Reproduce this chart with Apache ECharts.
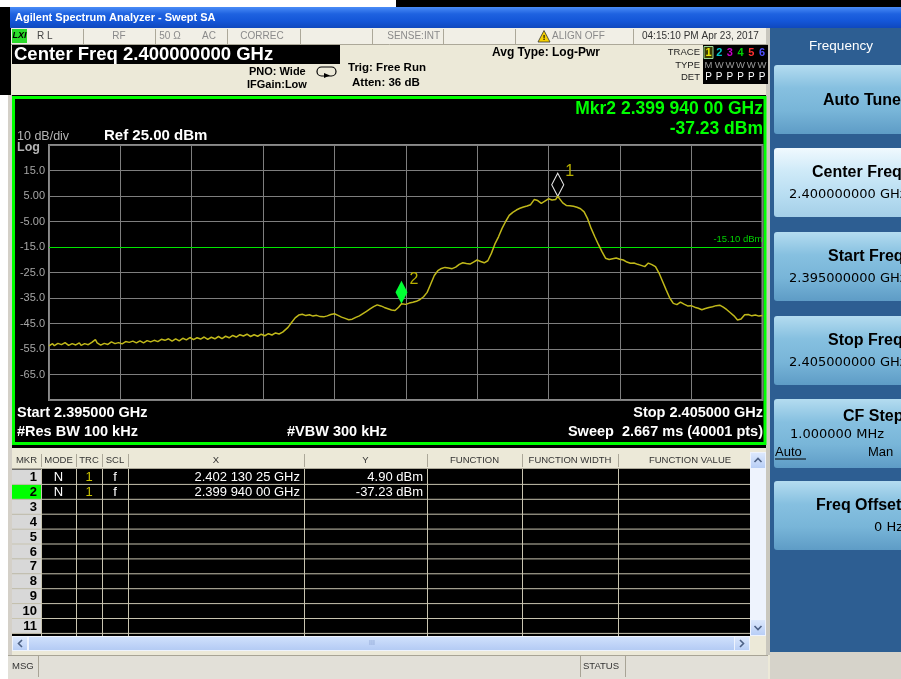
<!DOCTYPE html>
<html><head><meta charset="utf-8">
<script src="https://cdn.jsdelivr.net/npm/echarts@6/dist/echarts.min.js"></script>
<style>html,body{margin:0;padding:0;background:#fff}#c{width:901px;height:679px}</style>
</head><body><div id="c"></div>
<script>
// ---------------- data ----------------
const freqMHz = [
2395.000,2395.025,2395.050,2395.075,2395.100,2395.125,2395.150,2395.175,2395.200,2395.225,
2395.250,2395.275,2395.300,2395.325,2395.350,2395.375,2395.400,2395.425,2395.450,2395.475,
2395.500,2395.525,2395.550,2395.575,2395.600,2395.625,2395.650,2395.675,2395.700,2395.725,
2395.750,2395.775,2395.800,2395.825,2395.850,2395.875,2395.900,2395.925,2395.950,2395.975,
2396.000,2396.025,2396.050,2396.075,2396.100,2396.125,2396.150,2396.175,2396.200,2396.225,
2396.250,2396.275,2396.300,2396.325,2396.350,2396.375,2396.400,2396.425,2396.450,2396.475,
2396.500,2396.525,2396.550,2396.575,2396.600,2396.625,2396.650,2396.675,2396.700,2396.725,
2396.750,2396.775,2396.800,2396.825,2396.850,2396.875,2396.900,2396.925,2396.950,2396.975,
2397.000,2397.025,2397.050,2397.075,2397.100,2397.125,2397.150,2397.175,2397.200,2397.225,
2397.250,2397.275,2397.300,2397.325,2397.350,2397.375,2397.400,2397.425,2397.450,2397.475,
2397.500,2397.525,2397.550,2397.575,2397.600,2397.625,2397.650,2397.675,2397.700,2397.725,
2397.750,2397.775,2397.800,2397.825,2397.850,2397.875,2397.900,2397.925,2397.950,2397.975,
2398.000,2398.025,2398.050,2398.075,2398.100,2398.125,2398.150,2398.175,2398.200,2398.225,
2398.250,2398.275,2398.300,
2398.35,2398.40,2398.45,
2398.50,2398.55,2398.60,2398.65,2398.70,2398.75,2398.80,2398.85,2398.90,2398.95,
2399.00,2399.05,2399.10,2399.15,2399.20,2399.25,2399.30,2399.35,2399.40,2399.45,
2399.50,2399.55,2399.60,2399.65,2399.70,2399.75,2399.80,2399.85,2399.90,2399.94,
2400.00,2400.05,2400.10,2400.15,2400.20,2400.25,2400.30,2400.35,2400.40,2400.45,
2400.50,2400.55,2400.60,2400.65,2400.70,2400.75,2400.80,2400.85,2400.90,2400.95,
2401.00,2401.05,2401.10,2401.15,2401.20,2401.25,2401.30,2401.35,2401.40,2401.45,
2401.50,2401.55,2401.60,2401.65,2401.70,2401.75,2401.80,2401.85,2401.90,2401.95,
2402.00,2402.05,2402.10,2402.13,2402.15,2402.20,2402.25,2402.30,2402.35,2402.40,
2402.45,2402.50,2402.55,2402.60,2402.65,2402.70,2402.75,2402.80,2402.85,2402.90,
2402.95,2403.00,2403.05,2403.10,2403.15,2403.20,2403.25,2403.30,2403.35,2403.40,
2403.45,2403.50,2403.55,2403.60,2403.65,2403.70,2403.75,2403.80,2403.85,2403.90,
2403.95,2404.00,2404.05,2404.10,2404.15,2404.20,2404.25,2404.30,2404.35,2404.40,
2404.45,2404.50,2404.55,2404.60,2404.65,2404.70,2404.75,2404.80,2404.85,2404.90,
2404.95,2405.00
];
const levelDbm = [
-53.8,-53.2,-52.9,-53.7,-53.4,-52.8,-52.6,-53.3,-53.1,-52.5,
-52.8,-53.6,-53.5,-52.9,-52.7,-53.4,-53.2,-52.6,-53.6,-53.0,
-52.9,-53.5,-53.3,-52.7,-52.4,-52.9,-51.3,-52.6,-52.8,-53.5,
-53.4,-52.8,-52.6,-53.2,-53.0,-52.2,-52.3,-52.9,-53.1,-52.5,
-52.2,-53.0,-52.9,-52.1,-51.6,-52.4,-52.5,-51.9,-51.8,-52.6,
-52.7,-51.8,-51.9,-52.6,-52.4,-51.7,-51.5,-52.2,-52.3,-51.6,
-51.4,-52.1,-52.0,-51.2,-50.9,-51.6,-51.7,-51.0,-51.1,-51.9,
-51.8,-51.0,-51.2,-51.8,-51.6,-50.8,-50.7,-51.4,-51.3,-50.5,
-50.6,-51.3,-51.2,-50.6,-50.4,-51.1,-51.0,-50.3,-50.5,-51.2,
-51.1,-50.4,-50.3,-51.0,-50.9,-50.1,-50.2,-50.9,-50.8,-50.0,
-49.9,-50.6,-50.4,-49.7,-49.6,-50.3,-50.2,-49.4,-48.8,-49.9,
-49.7,-49.2,-49.3,-50.1,-50.0,-49.4,-49.5,-50.0,-49.9,-49.2,
-49.3,-49.8,-49.6,-49.0,-48.9,-49.5,-49.3,-48.7,-48.6,-49.1,
-48.9,-48.4,-47.8,
-46.5,-44.6,-42.8,
-41.7,-41.4,-41.9,-41.6,-42.1,-41.8,-42.3,-42.4,-42.0,-41.5,
-41.2,-41.8,-42.5,-43.0,-43.5,-43.3,-42.6,-42.0,-41.1,-40.2,
-39.3,-38.4,-37.7,-38.1,-38.7,-39.2,-39.7,-39.9,-38.6,-37.23,
-37.5,-37.0,-36.7,-36.3,-35.6,-34.5,-32.8,-29.5,-26.2,-24.3,
-23.4,-23.0,-23.2,-23.5,-22.9,-21.8,-21.2,-21.5,-21.7,-20.9,
-20.1,-20.7,-21.2,-20.4,-17.5,-13.8,-11.0,-7.7,-5.0,-2.6,
-1.4,-0.5,0.2,0.7,1.1,1.6,3.6,3.2,2.1,3.0,
3.9,3.4,3.6,4.90,4.2,2.3,1.3,1.2,1.0,0.6,
0.0,-1.2,-4.0,-7.8,-11.0,-14.0,-16.8,-19.4,-19.9,-19.6,
-19.3,-19.8,-20.1,-20.9,-21.4,-21.3,-21.8,-22.2,-22.7,-21.3,
-21.9,-22.7,-25.2,-28.5,-31.8,-35.0,-37.1,-37.6,-36.6,-37.4,
-38.1,-38.0,-38.6,-39.0,-39.6,-39.1,-38.7,-38.4,-38.0,-37.8,
-38.6,-39.6,-40.8,-42.0,-43.6,-43.2,-41.6,-41.5,-42.0,-41.7,
-42.1,-41.9
];
const markerIds = ['1','2'];
const markerFreqMHz = [2402.13025, 2399.94];
const markerLevelDbm = [4.90, -37.23];
const markerXText = ['2.402 130 25 GHz','2.399 940 00 GHz'];
const markerYText = ['4.90 dBm','-37.23 dBm'];
const displayLineDbm = -15.10;
const startFreqMHz = 2395, stopFreqMHz = 2405;
const refLevelDbm = 25, bottomLevelDbm = -75, dbPerDiv = 10;
const tableHeaders = ['MKR','MODE','TRC','SCL','X','Y','FUNCTION','FUNCTION WIDTH','FUNCTION VALUE'];
const tableRowCount = 11;
const softkeys = [
  {title:'Auto Tune', value:''},
  {title:'Center Freq', value:'2.400000000 GHz', selected:true},
  {title:'Start Freq', value:'2.395000000 GHz'},
  {title:'Stop Freq', value:'2.405000000 GHz'},
  {title:'CF Step', value:'1.000000 MHz', extra:true},
  {title:'Freq Offset', value:'0 Hz'}
];

// ---------------- helpers ----------------
const FF = '"Liberation Sans", Arial, sans-serif';
const FD = '"DejaVu Sans", Tahoma, sans-serif';
function R(x,y,w,h,fill,o){return Object.assign({type:'rect',silent:true,z:-10,shape:{x:x,y:y,width:w,height:h},style:{fill:fill}},o||{});}
function SR(x,y,w,h,stroke,lw,z){return {type:'rect',silent:true,z:z||-6,shape:{x:x,y:y,width:w,height:h},style:{fill:'none',stroke:stroke,lineWidth:lw||1}};}
function T(x,y,text,size,fill,o){o=o||{};return {type:'text',silent:true,z:o.z||50,style:{x:x,y:y,text:text,fill:fill,font:(o.w||'normal')+' '+size+'px '+(o.ff||FF),textAlign:o.a||'left',textVerticalAlign:'middle'}};}
function L(x1,y1,x2,y2,stroke,lw,z){return {type:'line',silent:true,z:z||-5,shape:{x1:x1,y1:y1,x2:x2,y2:y2},style:{stroke:stroke,lineWidth:lw||1}};}
function VG(stops){return {type:'linear',x:0,y:0,x2:0,y2:1,colorStops:stops.map((c,i)=>({offset:i/(stops.length-1),color:c}))};}

const G = [];
// page edges
G.push(R(0,0,396,7,'#FFFFFF'));
G.push(R(396,0,505,7,'#000000'));
G.push(R(0,7,11,88,'#000000'));
G.push(R(0,95,8,584,'#FFFFFF'));
G.push(R(8,95,4,584,'#D4D0C8'));
// title bar
G.push(R(10,7,891,21,VG(['#4A8CF7','#1E62E0','#1456D8','#0F48BE'])));
G.push(T(15,18,'Agilent Spectrum Analyzer - Swept SA',11,'#FFFFFF',{w:'bold'}));
// status row
G.push(R(11,28,757,17,'#F1EFE6'));
G.push(L(11,44.5,768,44.5,'#ACA899',1));
[83,155,227,300,372,443,515,633].forEach(x=>G.push(L(x+0.5,29,x+0.5,44,'#ACA899',1)));
G.push(R(12,29,15,14,'#2BDB2B',{z:-4}));
G.push(T(19.5,36,'LXI',9,'#000',{w:'bold italic',a:'center'}));
G.push(T(37,36.5,'R L',10,'#444'));
G.push(T(119,36.5,'RF',10,'#8A8A8A',{a:'center'}));
G.push(T(170,36.5,'50 Ω',10,'#8A8A8A',{a:'center'}));
G.push(T(209,36.5,'AC',10,'#8A8A8A',{a:'center'}));
G.push(T(262,36.5,'CORREC',10,'#8A8A8A',{a:'center'}));
G.push(T(440,36.5,'SENSE:INT',10,'#8A8A8A',{a:'right'}));
G.push({type:'polygon',silent:true,z:-3,shape:{points:[[544,30.5],[550,42],[538,42]]},style:{fill:'#F5D000',stroke:'#333',lineWidth:0.8}});
G.push(T(544,37.5,'!',8,'#000',{w:'bold',a:'center'}));
G.push(T(552,36.5,'ALIGN OFF',10,'#8A8A8A'));
G.push(T(642,36.5,'04:15:10 PM Apr 23, 2017',10,'#333'));
// center freq banner
G.push(R(12,45,328,19,'#000000',{z:-4}));
G.push(T(14,54.5,'Center Freq 2.400000000 GHz',18.5,'#FFFFFF',{w:'bold'}));
G.push(T(249,71.5,'PNO: Wide',11,'#000',{w:'bold'}));
G.push(T(247,84.5,'IFGain:Low',11,'#000',{w:'bold'}));
G.push({type:'rect',silent:true,z:-3,shape:{x:317,y:67,width:19,height:9,r:4.5},style:{fill:'none',stroke:'#000',lineWidth:1.2}});
G.push({type:'polygon',silent:true,z:-3,shape:{points:[[324,73],[330,75.5],[324,78]]},style:{fill:'#000'}});
G.push(T(348,67.5,'Trig: Free Run',11.5,'#000',{w:'bold'}));
G.push(T(352,82.5,'Atten: 36 dB',11.5,'#000',{w:'bold'}));
G.push(T(492,52.5,'Avg Type: Log-Pwr',12,'#000',{w:'bold'}));
G.push(T(700,52,'TRACE',9.5,'#222',{a:'right'}));
G.push(T(700,65,'TYPE',9.5,'#222',{a:'right'}));
G.push(T(700,77.5,'DET',9.5,'#222',{a:'right'}));
G.push(R(703,45,65,39,'#000000',{z:-4}));
G.push({type:'rect',silent:true,z:-3,shape:{x:704,y:46.5,width:9,height:12},style:{fill:'#3A3A00',stroke:'#9AD89A',lineWidth:1}});
const traceColors = ['#E8E800','#00C8C8','#C800C8','#00D000','#FF3030','#5050FF'];
traceColors.forEach((c,i)=>{
  const x = 708.5 + i*10.7;
  G.push(T(x,52.5,String(i+1),11,c,{w:'bold',a:'center'}));
  G.push(T(x,65.5,i===0?'M':'W',9.5,'#9A9A9A',{a:'center'}));
  G.push(T(x,77.5,'P',10,'#FFFFFF',{a:'center'}));
});
// plot panel
G.push(R(12,95,756,353,'#000000'));
G.push(SR(13.5,97.5,751.5,346,'#00FF00',3,-6));
G.push(T(17,136.5,'10 dB/div',12.5,'#B4B4B4'));
G.push(T(17,147.5,'Log',12.5,'#B4B4B4',{w:'bold'}));
G.push(T(104,135.5,'Ref '+refLevelDbm.toFixed(2)+' dBm',15,'#FFFFFF',{w:'bold'}));
G.push(T(763,109,'Mkr'+markerIds[1]+' '+markerXText[1],17.5,'#00FF00',{w:'bold',a:'right'}));
G.push(T(763,129.5,markerYText[1],17.5,'#00FF00',{w:'bold',a:'right'}));
G.push(T(17,412.5,'Start 2.395000 GHz',14.5,'#FFFFFF',{w:'bold'}));
G.push(T(17,432,'#Res BW 100 kHz',14.5,'#FFFFFF',{w:'bold'}));
G.push(T(287,432,'#VBW 300 kHz',14.5,'#FFFFFF',{w:'bold'}));
G.push(T(763,412.5,'Stop 2.405000 GHz',14.5,'#FFFFFF',{w:'bold',a:'right'}));
G.push(T(763,432,'Sweep  2.667 ms (40001 pts)',14.5,'#FFFFFF',{w:'bold',a:'right'}));
// marker table
const colX = [12,41,76,102,128,304,427,522,618,750];
G.push(R(12,452,738,17,'#ECE9D8'));
G.push(L(12,468.5,750,468.5,'#ACA899',1));
for(let i=1;i<colX.length-1;i++) G.push(L(colX[i]+0.5,454,colX[i]+0.5,467,'#ACA899',1));
tableHeaders.forEach((h,i)=>{
  const cx = i===8 ? 690 : (colX[i]+colX[i+1])/2;
  G.push(T(cx,460.5,h,9.5,'#333',{a:'center'}));
});
G.push(R(12,469,738,167,'#000000'));
const rowH = 14.9, rowTop = 469.5;
for(let r=0;r<tableRowCount;r++){
  const y0 = rowTop + r*rowH;
  G.push(R(12,y0,29,rowH,r===1?'#00FF00':'#D8D8D8',{z:-8}));
  G.push(T(37,y0+rowH/2+0.5,String(r+1),13,'#000',{w:'bold',a:'right'}));
  G.push(L(12,y0+rowH,750,y0+rowH,'#C8C4B0',1,-4));
}
for(let i=1;i<colX.length-1;i++) G.push(L(colX[i]+0.5,469,colX[i]+0.5,636,'#C8C4B0',1,-4));
markerIds.forEach((m,r)=>{
  const yc = rowTop + r*rowH + rowH/2 + 0.5;
  G.push(T(58.5,yc,'N',13,'#FFFFFF',{a:'center'}));
  G.push(T(89,yc,'1',13,'#C8C000',{a:'center'}));
  G.push(T(115,yc,'f',13,'#FFFFFF',{a:'center'}));
  G.push(T(300,yc,markerXText[r],13,'#FFFFFF',{a:'right'}));
  G.push(T(423,yc,markerYText[r],13,'#FFFFFF',{a:'right'}));
});
// vertical scrollbar
G.push(R(750,452,16,184,'#EEF3FD',{z:-8}));
G.push(R(751,453,14,15,VG(['#DCE8FC','#B8CEF6']),{z:-7}));
G.push(R(751,620,14,15,VG(['#DCE8FC','#B8CEF6']),{z:-7}));
G.push({type:'polyline',silent:true,z:-3,shape:{points:[[754.5,462],[758,458.5],[761.5,462]]},style:{stroke:'#4D6185',lineWidth:1.6,fill:'none'}});
G.push({type:'polyline',silent:true,z:-3,shape:{points:[[754.5,626],[758,629.5],[761.5,626]]},style:{stroke:'#4D6185',lineWidth:1.6,fill:'none'}});
// horizontal scrollbar
G.push(R(12,636,738,15,'#EEF3FD',{z:-8}));
G.push(R(13,637,14,13,VG(['#DCE8FC','#B8CEF6']),{z:-7}));
G.push(R(29,637,705,13,VG(['#CFE0FC','#B4CBF4']),{z:-7}));
G.push(R(735,637,14,13,VG(['#DCE8FC','#B8CEF6']),{z:-7}));
G.push({type:'polyline',silent:true,z:-3,shape:{points:[[22,640],[18.5,643.5],[22,647]]},style:{stroke:'#4D6185',lineWidth:1.6,fill:'none'}});
G.push({type:'polyline',silent:true,z:-3,shape:{points:[[740,640],[743.5,643.5],[740,647]]},style:{stroke:'#4D6185',lineWidth:1.6,fill:'none'}});
G.push(T(372,643.5,'III',7,'#8AA2D0',{a:'center'}));
// message bar
G.push(R(8,655,760,24,'#E2E0D8'));
G.push(L(8,655.5,768,655.5,'#A8A496',1));
G.push(L(38.5,656,38.5,677,'#A8A496',1));
G.push(L(580.5,656,580.5,677,'#A8A496',1));
G.push(L(625.5,656,625.5,677,'#A8A496',1));
G.push(T(12,666.5,'MSG',9.5,'#333'));
G.push(T(583,666.5,'STATUS',9.5,'#333'));
// right softkey panel
G.push(R(766,28,4,627,'#C9C7BE'));
G.push(R(770,28,131,624,'#2D5E92'));
G.push(R(770,652,131,27,'#D6D3CA'));
G.push(T(841,46.5,'Frequency',13.5,'#FFFFFF',{a:'center'}));
const keyY = [65,148,232,316,399,481];
const keyTitleX = [823,812,828,828,843,816];
softkeys.forEach((k,i)=>{
  const y0 = keyY[i], h = 69;
  const grad = k.selected ? VG(['#F0F9FE','#CFEAF8','#B9DEF2','#A4CFE8']) : VG(['#B4DCF0','#86C0E0','#78B5D8','#5E9CC6']);
  G.push({type:'rect',silent:true,z:-8,shape:{x:774,y:y0,width:135,height:h,r:3},style:{fill:grad}});
  const tx = keyTitleX[i];
  if(!k.value){
    G.push(T(tx,y0+36,k.title,16,'#000',{w:'bold'}));
  } else if(k.extra){
    G.push(T(tx,y0+18,k.title,16,'#000',{w:'bold'}));
    G.push(T(790,y0+36,k.value,13,'#000',{ff:FD}));
    G.push(T(775,y0+53,'Auto',13,'#000'));
    G.push(L(775,y0+60,806,y0+60,'#000',1,-3));
    G.push(T(868,y0+53,'Man',13,'#000'));
  } else {
    G.push(T(tx,y0+25,k.title,16,'#000',{w:'bold'}));
    G.push(T(i===5?874:789,y0+47,k.value,13,'#000',{ff:FD}));
  }
});

// ---------------- chart ----------------
const chart = echarts.init(document.getElementById('c'), null, {renderer:'canvas'});
const traceData = freqMHz.map((f,i)=>[f, levelDbm[i]]);
const markerData = markerIds.map((m,i)=>({
  name:'M'+m,
  coord:[markerFreqMHz[i], markerLevelDbm[i]],
  symbol:'diamond',
  symbolSize:[12,23],
  symbolOffset:[0,'-50%'],
  itemStyle: i===0 ? {color:'rgba(0,0,0,0)', borderColor:'#E6E6E6', borderWidth:1.2}
                   : {color:'#00FF33', borderColor:'#00FF33', borderWidth:0},
  label:{show:true, formatter:m, position:[14,-9], color:'#B8B000', fontSize:16, fontFamily:FF}
}));
chart.setOption({
  animation:false,
  backgroundColor:'#ECE9D8',
  graphic:{elements:G},
  grid:{left:49, top:145, width:713.5, height:255, show:true, borderColor:'#8A8A8A', borderWidth:2, backgroundColor:'rgba(0,0,0,0)'},
  xAxis:{type:'value', min:startFreqMHz, max:stopFreqMHz, interval:1,
    axisLine:{show:false}, axisTick:{show:false}, axisLabel:{show:false},
    splitLine:{show:true, lineStyle:{color:'#7E7E7E', width:1}}},
  yAxis:{type:'value', min:bottomLevelDbm, max:refLevelDbm, interval:dbPerDiv,
    axisLine:{show:false}, axisTick:{show:false},
    axisLabel:{color:'#A6A6A6', fontSize:11, fontFamily:FF, margin:4,
      formatter:v => (v===refLevelDbm || v===bottomLevelDbm) ? '' : v.toPrecision(3)},
    splitLine:{show:true, lineStyle:{color:'#7E7E7E', width:1}}},
  series:[{
    type:'line', data:traceData, symbol:'none', showSymbol:false, z:5,
    lineStyle:{color:'#C0B81A', width:1.5},
    markLine:{silent:true, symbol:['none','none'], animation:false,
      lineStyle:{color:'#00E600', type:'solid', width:1},
      label:{show:true, position:'insideEndTop', formatter:displayLineDbm.toFixed(2)+' dBm', color:'#00D200', fontSize:9.5, fontFamily:FF, distance:[0,3]},
      data:[{yAxis:displayLineDbm}]},
    markPoint:{silent:true, animation:false, data:markerData}
  }]
});
</script></body></html>
